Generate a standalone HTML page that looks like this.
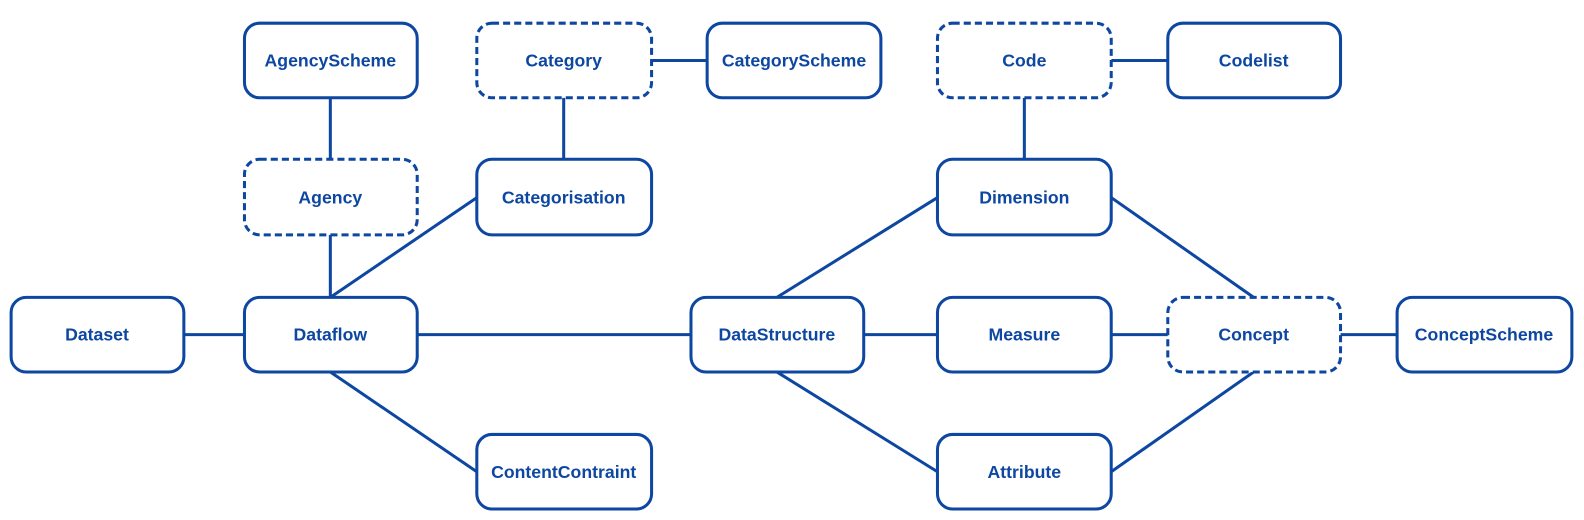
<!DOCTYPE html>
<html><head><meta charset="utf-8"><style>
html,body{margin:0;padding:0;background:#fff;width:1584px;height:520px;overflow:hidden}
text{font-family:"Liberation Sans",sans-serif;font-weight:bold;font-size:17.5px;fill:#0d47a1}
</style></head><body>
<svg width="1584" height="520" viewBox="0 0 1584 520" xmlns="http://www.w3.org/2000/svg">
<g transform="scale(1.0102,1.008)">
<g stroke="#0d47a1" stroke-width="3" fill="none">
<line x1="327" y1="97" x2="327" y2="158"/>
<line x1="645" y1="60" x2="700" y2="60"/>
<line x1="558" y1="97" x2="558" y2="158"/>
<line x1="327" y1="233" x2="327" y2="295"/>
<line x1="327" y1="295" x2="472" y2="196"/>
<line x1="182" y1="332" x2="242" y2="332"/>
<line x1="413" y1="332" x2="684" y2="332"/>
<line x1="327" y1="369" x2="472" y2="468"/>
<line x1="1100" y1="60" x2="1156" y2="60"/>
<line x1="1014" y1="97" x2="1014" y2="158"/>
<line x1="769" y1="295" x2="928" y2="196"/>
<line x1="1100" y1="196" x2="1241" y2="295"/>
<line x1="855" y1="332" x2="928" y2="332"/>
<line x1="1100" y1="332" x2="1156" y2="332"/>
<line x1="1327" y1="332" x2="1383" y2="332"/>
<line x1="769" y1="369" x2="928" y2="468"/>
<line x1="1100" y1="468" x2="1241" y2="369"/>
</g>
<g stroke="#0d47a1" stroke-width="3" fill="#fff">
<rect x="242" y="23" width="171" height="74" rx="15"/>
<rect x="472" y="23" width="173" height="74" rx="15" stroke-dasharray="7,4"/>
<rect x="700" y="23" width="172" height="74" rx="15"/>
<rect x="928" y="23" width="172" height="74" rx="15" stroke-dasharray="7,4"/>
<rect x="1156" y="23" width="171" height="74" rx="15"/>
<rect x="242" y="158" width="171" height="75" rx="15" stroke-dasharray="7,4"/>
<rect x="472" y="158" width="173" height="75" rx="15"/>
<rect x="928" y="158" width="172" height="75" rx="15"/>
<rect x="11" y="295" width="171" height="74" rx="15"/>
<rect x="242" y="295" width="171" height="74" rx="15"/>
<rect x="684" y="295" width="171" height="74" rx="15"/>
<rect x="928" y="295" width="172" height="74" rx="15"/>
<rect x="1156" y="295" width="171" height="74" rx="15" stroke-dasharray="7,4"/>
<rect x="1383" y="295" width="173" height="74" rx="15"/>
<rect x="472" y="431" width="173" height="74" rx="15"/>
<rect x="928" y="431" width="172" height="74" rx="15"/>
</g>
<g text-anchor="middle">
<text x="327" y="66">AgencyScheme</text>
<text x="558" y="66">Category</text>
<text x="786" y="66">CategoryScheme</text>
<text x="1014" y="66">Code</text>
<text x="1241" y="66">Codelist</text>
<text x="327" y="202">Agency</text>
<text x="558" y="202">Categorisation</text>
<text x="1014" y="202">Dimension</text>
<text x="96" y="338">Dataset</text>
<text x="327" y="338">Dataflow</text>
<text x="769" y="338">DataStructure</text>
<text x="1014" y="338">Measure</text>
<text x="1241" y="338">Concept</text>
<text x="1469" y="338">ConceptScheme</text>
<text x="558" y="474">ContentContraint</text>
<text x="1014" y="474">Attribute</text>
</g>
</g>
</svg>
</body></html>
